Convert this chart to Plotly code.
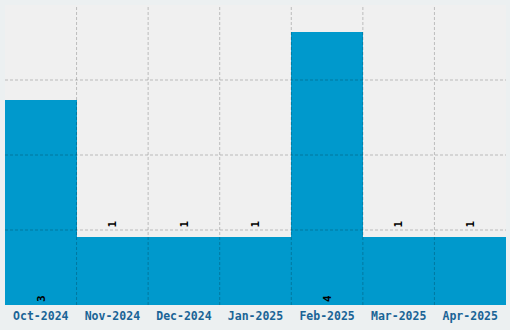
import plotly.graph_objects as go

months = ["Oct-2024", "Nov-2024", "Dec-2024", "Jan-2025", "Feb-2025", "Mar-2025", "Apr-2025"]
counts = [3, 1, 1, 1, 4, 1, 1]

Y_MAX = 4.4
Y_DTICK = 1.1

idx = list(range(len(months)))
positions = ["inside" if c >= 3 else "outside" for c in counts]
labels = [str(c) if p == "inside" else "\u00a0" + str(c) for c, p in zip(counts, positions)]

fig = go.Figure()
fig.add_trace(go.Bar(
    x=idx, y=counts, width=1,
    marker=dict(color="#0099cc", line=dict(width=0)),
    text=labels,
    textposition=positions,
    insidetextanchor="start",
    textangle=-90,
    textfont=dict(family="DejaVu Sans Mono", size=11, color="black", weight="bold"),
    cliponaxis=False,
))

grid_line = dict(color="rgba(0,0,0,0.22)", width=1, dash="3px,2px")
shapes = []
for i in idx[:-1]:
    shapes.append(dict(type="line", xref="x", yref="paper", x0=i + 0.5, x1=i + 0.5,
                       y0=0, y1=1, line=grid_line, layer="above"))
k = 1
while k * Y_DTICK < Y_MAX - 1e-9:
    shapes.append(dict(type="line", xref="paper", yref="y", x0=0, x1=1,
                       y0=k * Y_DTICK, y1=k * Y_DTICK, line=grid_line, layer="above"))
    k += 1

fig.update_layout(
    width=510, height=330,
    margin=dict(l=5, r=4, t=5, b=25),
    paper_bgcolor="#ecf0f1",
    plot_bgcolor="#f0f0f0",
    showlegend=False,
    bargap=0,
    shapes=shapes,
    xaxis=dict(
        range=[-0.5, len(months) - 0.5],
        tickvals=idx, ticktext=months,
        showgrid=False, zeroline=False, showline=False, ticks="",
        tickfont=dict(family="DejaVu Sans Mono", size=11.5, color="#1a6496", weight="bold"),
        ticklabelstandoff=2,
    ),
    yaxis=dict(
        range=[0, Y_MAX], showgrid=False, zeroline=False, showticklabels=False,
        showline=False, ticks="",
    ),
)

fig.write_html("out.html")
